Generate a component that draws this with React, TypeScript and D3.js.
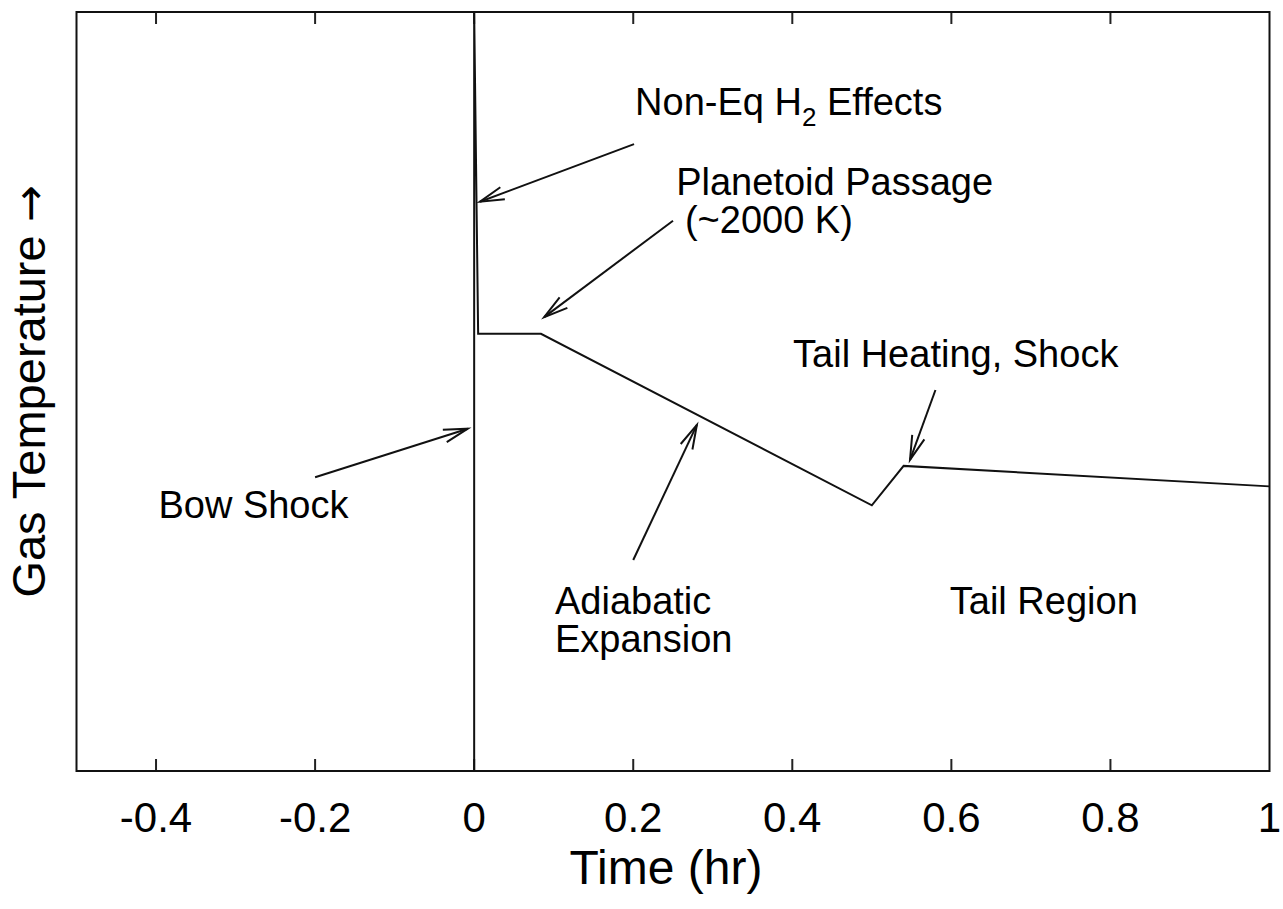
import React, { useEffect, useRef } from 'react';
import * as d3 from 'd3';

// Curve: gas temperature (arbitrary units) vs time in hours
const timeHr = [0, 0, 0.005, 0.084, 0.5, 0.54, 1.0];
const gasTemp = [0, 1.0, 0.576, 0.576, 0.35, 0.402, 0.375];

const xTicks = [-0.4, -0.2, 0, 0.2, 0.4, 0.6, 0.8, 1];

// Annotation labels (data coords of text start / baseline), |x| marks a subscript
const labelText = ['Non-Eq H|2| Effects', 'Planetoid Passage', '(~2000 K)', 'Tail Heating, Shock', 'Bow Shock', 'Adiabatic', 'Expansion', 'Tail Region'];
const labelX = [0.2023, 0.254, 0.265, 0.401, -0.397, 0.1016, 0.1016, 0.598];
const labelY = [0.864, 0.759, 0.709, 0.532, 0.333, 0.207, 0.157, 0.207];

// Arrows: from (tail) -> to (head), data coords
const arrowFromX = [0.201, 0.25, -0.2, 0.2, 0.58];
const arrowFromY = [0.826, 0.725, 0.387, 0.278, 0.502];
const arrowToX = [0.0073, 0.088, -0.008, 0.28, 0.548];
const arrowToY = [0.75, 0.598, 0.451, 0.456, 0.41];

const FONT = '"Liberation Sans", Arial, Helvetica, sans-serif';

export default function App() {
  const svgRef = useRef<SVGSVGElement>(null);

  useEffect(() => {
    if (!svgRef.current) return;
    const width = 1283;
    const height = 909;
    const margin = { top: 12, right: 13.5, bottom: 138, left: 76.5 };
    const innerWidth = width - margin.left - margin.right;
    const innerHeight = height - margin.top - margin.bottom;

    const svg = d3.select(svgRef.current);
    svg.selectAll('*').remove();

    const g = svg.append('g').attr('transform', `translate(${margin.left},${margin.top})`);

    const xScale = d3.scaleLinear().domain([-0.5, 1]).range([0, innerWidth]);
    const yScale = d3.scaleLinear().domain([0, 1]).range([innerHeight, 0]);

    svg.append('defs').append('clipPath').attr('id', 'plot-clip')
      .append('rect').attr('width', innerWidth).attr('height', innerHeight);

    // ticks, inward on bottom and mirrored on top
    const tickLen = 12;
    const inner = xTicks.filter(t => t > -0.5 && t < 1);
    g.append('g').selectAll('line').data(inner).enter()
      .append('line')
      .attr('x1', d => xScale(d)).attr('x2', d => xScale(d))
      .attr('y1', innerHeight).attr('y2', innerHeight - tickLen)
      .attr('stroke', '#222').attr('stroke-width', 2);
    g.append('g').selectAll('line').data(inner).enter()
      .append('line')
      .attr('x1', d => xScale(d)).attr('x2', d => xScale(d))
      .attr('y1', 0).attr('y2', tickLen)
      .attr('stroke', '#222').attr('stroke-width', 2);

    // tick labels
    g.append('g').selectAll('text').data(xTicks).enter()
      .append('text')
      .attr('x', d => xScale(d))
      .attr('y', innerHeight + 61)
      .attr('text-anchor', 'middle')
      .style('font-family', FONT)
      .style('font-size', '42px')
      .style('fill', '#000')
      .text(d => String(d));

    // curve
    const line = d3.line<number>()
      .x((_, i) => xScale(timeHr[i]))
      .y(d => yScale(d));
    g.append('path')
      .datum(gasTemp)
      .attr('clip-path', 'url(#plot-clip)')
      .attr('d', line)
      .attr('fill', 'none')
      .attr('stroke', '#111')
      .attr('stroke-width', 2);

    // arrows
    const headLen = 25;
    const headAng = (15 * Math.PI) / 180;
    arrowFromX.forEach((fx, i) => {
      const x1 = xScale(fx), y1 = yScale(arrowFromY[i]);
      const x2 = xScale(arrowToX[i]), y2 = yScale(arrowToY[i]);
      const a = Math.atan2(y1 - y2, x1 - x2);
      const p1 = [x2 + headLen * Math.cos(a + headAng), y2 + headLen * Math.sin(a + headAng)];
      const p2 = [x2 + headLen * Math.cos(a - headAng), y2 + headLen * Math.sin(a - headAng)];
      const ag = g.append('g').attr('stroke', '#111').attr('stroke-width', 2).attr('fill', 'none');
      ag.append('line').attr('x1', x1).attr('y1', y1).attr('x2', x2).attr('y2', y2);
      ag.append('path').attr('d', `M${p1[0]},${p1[1]}L${x2},${y2}L${p2[0]},${p2[1]}`);
    });

    // labels
    labelText.forEach((t, i) => {
      const txt = g.append('text')
        .attr('x', xScale(labelX[i]))
        .attr('y', yScale(labelY[i]))
        .style('font-family', FONT)
        .style('font-size', '38px')
        .style('fill', '#000');
      t.split('|').forEach((p, j) => {
        if (j % 2 === 1) {
          txt.append('tspan').attr('dy', 11).style('font-size', '26px').text(p);
        } else {
          txt.append('tspan').attr('dy', j > 0 ? -11 : 0).text(p);
        }
      });
    });

    // frame
    g.append('rect')
      .attr('width', innerWidth).attr('height', innerHeight)
      .attr('fill', 'none').attr('stroke', '#111').attr('stroke-width', 2);

    // axis labels
    g.append('text')
      .attr('x', innerWidth / 2 - 7)
      .attr('y', innerHeight + 113)
      .attr('text-anchor', 'middle')
      .style('font-family', FONT)
      .style('font-size', '48px')
      .style('fill', '#000')
      .text('Time (hr)');

    const yl = g.append('text')
      .attr('transform', 'rotate(-90)')
      .attr('x', -innerHeight / 2)
      .attr('y', -32)
      .attr('text-anchor', 'middle')
      .style('font-family', FONT)
      .style('font-size', '47px')
      .style('fill', '#000');
    yl.append('tspan').text('Gas Temperature ');
    yl.append('tspan').style('font-family', '"DejaVu Sans", sans-serif').style('font-size', '44px').text('→');
  }, []);

  return (
    <svg
      ref={svgRef}
      width={1283}
      height={909}
      style={{ position: 'absolute', left: 0, top: 0, background: '#fff' }}
    />
  );
}
